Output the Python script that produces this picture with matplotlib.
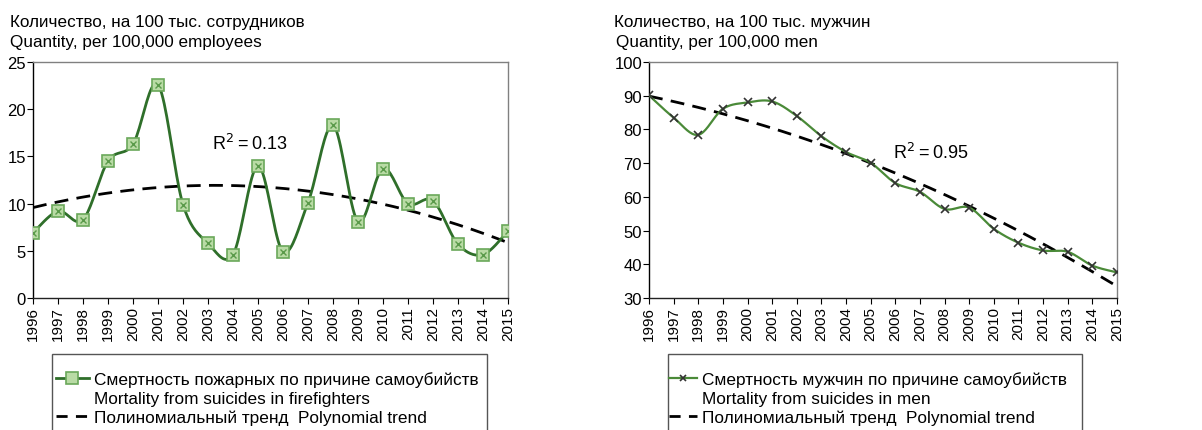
import numpy as np
import matplotlib
matplotlib.use("Agg")
import matplotlib.pyplot as plt
from matplotlib.lines import Line2D
from matplotlib.patches import Rectangle

plt.rcParams['font.family'] = ['Liberation Sans', 'DejaVu Sans']

years = list(range(1996, 2016))
year_labels = [str(y) for y in years]
firefighters = [6.9, 9.2, 8.3, 14.5, 16.3, 22.6, 9.9, 5.8, 4.6, 14.0, 4.9, 10.1,
                18.3, 8.1, 13.7, 10.0, 10.3, 5.7, 4.6, 7.1]
men = [90.1, 83.5, 78.4, 86.1, 88.0, 88.3, 84.0, 78.0, 73.3, 70.1, 64.1, 61.5,
       56.4, 56.8, 50.5, 46.4, 44.1, 43.7, 39.6, 37.6]

title_left = ["Количество, на 100 тыс. сотрудников", "Quantity, per 100,000 employees"]
title_right = ["Количество, на 100 тыс. мужчин", "Quantity, per 100,000 men"]
label_ff = ["Смертность пожарных по причине самоубийств", "Mortality from suicides in firefighters"]
label_men = ["Смертность мужчин по причине самоубийств", "Mortality from suicides in men"]
label_trend = "Полиномиальный тренд  Polynomial trend"
r2_left = "R$^2$\u2009=\u20090.13"
r2_right = "R$^2$\u2009=\u20090.95"


def smooth(x, y, n=20):
    x = np.asarray(x, float); y = np.asarray(y, float)
    xs, ys = [], []
    for i in range(len(x) - 1):
        p0 = np.array([x[max(i - 1, 0)], y[max(i - 1, 0)]])
        p1 = np.array([x[i], y[i]])
        p2 = np.array([x[i + 1], y[i + 1]])
        p3 = np.array([x[min(i + 2, len(x) - 1)], y[min(i + 2, len(x) - 1)]])
        c1 = p1 + (p2 - p0) / 6.0
        c2 = p2 - (p3 - p1) / 6.0
        t = np.linspace(0, 1, n, endpoint=False)[:, None]
        pts = ((1 - t) ** 3) * p1 + 3 * ((1 - t) ** 2) * t * c1 + 3 * (1 - t) * t ** 2 * c2 + t ** 3 * p2
        xs.extend(pts[:, 0]); ys.extend(pts[:, 1])
    xs.append(x[-1]); ys.append(y[-1])
    return np.array(xs), np.array(ys)


W, H = 1202, 431
fig = plt.figure(figsize=(W / 100, H / 100), dpi=100)


def ax_rect(x0, x1, y0, y1):
    return [x0 / W, 1 - y1 / H, (x1 - x0) / W, (y1 - y0) / H]


ax1 = fig.add_axes(ax_rect(33, 508, 63, 299))
ax2 = fig.add_axes(ax_rect(649, 1117, 63, 299))

xfit = np.linspace(1996, 2015.1, 200)

# Left chart
green_dark = '#2f6f2a'
sx, sy = smooth(years, firefighters)
ax1.plot(sx, sy, color=green_dark, lw=2.0, zorder=3)
ax1.plot(years, firefighters, ls='none', marker='s', ms=9, mfc='#b9dba5',
         mec='#6aa85a', mew=1.2, zorder=4)
ax1.plot(years, firefighters, ls='none', marker='x', ms=5, mec='#5a9a4a', mew=1.0, zorder=5)
c1 = np.polyfit(np.array(years) - 1996, firefighters, 2)
ax1.plot(xfit, np.polyval(c1, xfit - 1996), color='black', ls=(0, (5, 3)), lw=2.0, zorder=2)
ax1.set_ylim(0, 25)
ax1.set_yticks([0, 5, 10, 15, 20, 25])
ax1.text(2003.15, 16.4, r2_left, fontsize=13, va='center', ha='left')

# Right chart
sx2, sy2 = smooth(years, men)
ax2.plot(sx2, sy2, color='#4a8a38', lw=1.6, zorder=3)
ax2.plot(years, men, ls='none', marker='x', ms=6, mec='#333333', mew=1.2, zorder=4)
c2 = np.polyfit(np.array(years) - 1996, men, 2)
ax2.plot(xfit, np.polyval(c2, xfit - 1996), color='black', ls=(0, (5, 3)), lw=2.0, zorder=2)
ax2.set_ylim(30, 100)
ax2.set_yticks(range(30, 101, 10))
ax2.text(2005.9, 73.3, r2_right, fontsize=13, va='center', ha='left')

for ax in (ax1, ax2):
    ax.set_xlim(1996, 2015)
    ax.set_xticks(years)
    ax.set_xticklabels(year_labels, rotation=90, fontsize=11)
    ax.tick_params(axis='y', labelsize=12, length=4, width=0.8, pad=1, direction='out')
    ax.tick_params(axis='x', length=4, width=0.8, pad=2, direction='out')
    ax.spines['left'].set_color('black')
    ax.spines['bottom'].set_color('#222222')
    ax.spines['top'].set_color('#808080')
    ax.spines['right'].set_color('#808080')
    for s in ax.spines.values():
        s.set_linewidth(1.0)

# Titles
fig.text(10 / W, 1 - 15 / H, title_left[0], fontsize=12.3, va='top', ha='left')
fig.text(10 / W, 1 - 35 / H, title_left[1], fontsize=12.3, va='top', ha='left')
fig.text(614 / W, 1 - 15 / H, title_right[0], fontsize=12.3, va='top', ha='left')
fig.text(616 / W, 1 - 35 / H, title_right[1], fontsize=12.3, va='top', ha='left')

# Legends (frame drawn separately, runs past the bottom edge as in the source)
blank = Line2D([], [], ls='none', marker=None)
h_ff = (Line2D([], [], color=green_dark, lw=2.0),
        Line2D([], [], ls='none', marker='s', ms=8, mfc='#b9dba5', mec='#6aa85a', mew=1.2))
h_tr = Line2D([], [], color='black', ls=(0, (4, 3)), lw=2.0)
h_men = (Line2D([], [], color='#4a8a38', lw=1.6),
         Line2D([], [], ls='none', marker='x', ms=5, mec='#333333', mew=1.2))

for h, lab, fx0, fx1, hx, hl in ((h_ff, label_ff, 52, 487, 56, 1.9),
                                 (h_men, label_men, 668, 1082, 669, 1.6)):
    fig.patches.append(Rectangle((fx0 / W, -20 / H), (fx1 - fx0) / W, (H - 355 + 20) / H,
                                 transform=fig.transFigure, fill=False,
                                 edgecolor='#555555', lw=1.0))
    fig.legend([h, blank, h_tr], [lab[0], lab[1], label_trend],
               loc='upper left', bbox_to_anchor=(hx / W, 1 - 372 / H),
               fontsize=12.4, frameon=False, handlelength=hl, handletextpad=0.3,
               labelspacing=0.22, borderpad=0, borderaxespad=0)

fig.savefig('out.png', dpi=100)
